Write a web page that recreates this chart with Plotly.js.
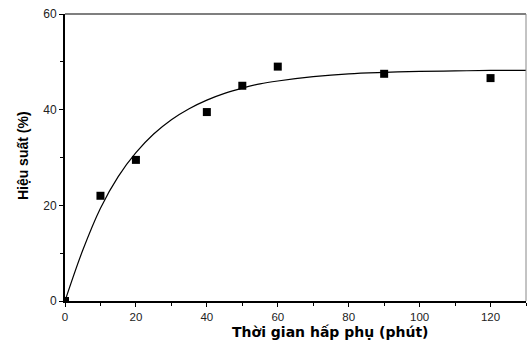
<!DOCTYPE html>
<html>
<head>
<meta charset="utf-8">
<script src="https://cdn.plot.ly/plotly-3.0.1.min.js"></script>
<style>html,body{margin:0;padding:0;background:#fff;}#chart{width:527px;height:344px;}</style>
</head>
<body>
<div id="chart"></div>
<script>
// Measured points
const timeMin = [0, 10, 20, 40, 50, 60, 90, 120];
const efficiency = [0, 22.0, 29.5, 39.5, 45.0, 49.0, 47.5, 46.6];
// Fitted curve
const fitTime = [0, 5, 10, 15, 20, 25, 30, 35, 40, 45, 50, 55, 60, 70, 80, 90, 100, 110, 120, 130];
const fitEff = [0, 10.6, 19.4, 26.0, 31.0, 34.9, 37.9, 40.2, 42.0, 43.4, 44.5, 45.4, 46.0, 46.9, 47.5, 47.8, 48.0, 48.1, 48.2, 48.2];
const xTitle = 'Thời gian hấp phụ (phút)';
const yTitle = 'Hiệu suất (%)';

const traces = [
  {x: fitTime, y: fitEff, mode: 'lines', type: 'scatter',
   line: {color: '#000', width: 1.2, shape: 'spline'}, hoverinfo: 'skip'},
  {x: timeMin, y: efficiency, mode: 'markers', type: 'scatter',
   marker: {symbol: 'square', size: 8, color: '#000'}}
];
const tickFont = {family: 'Liberation Sans, Arial, sans-serif', size: 12, color: '#222'};
const xTickFont = {family: 'Liberation Sans, Arial, sans-serif', size: 11.5, color: '#222'};
const layout = {
  width: 527, height: 344,
  margin: {l: 65, r: 1, t: 14, b: 43},
  paper_bgcolor: '#fff', plot_bgcolor: '#fff',
  showlegend: false,
  xaxis: {range: [0, 130], dtick: 20, tick0: 0, showgrid: false, zeroline: false,
    showline: true, linecolor: '#000', linewidth: 2, ticks: 'outside', ticklen: 4, tickwidth: 1, tickcolor: '#000',
    minor: {dtick: 10, ticks: 'outside', ticklen: 3, tickcolor: '#000', showgrid: false},
    tickfont: xTickFont},
  yaxis: {range: [0, 60], dtick: 20, tick0: 0, showgrid: false, zeroline: false,
    showline: true, linecolor: '#000', linewidth: 2, ticks: 'outside', ticklen: 4, tickwidth: 1, tickcolor: '#000',
    minor: {dtick: 10, ticks: 'outside', ticklen: 3, tickcolor: '#000', showgrid: false},
    tickfont: tickFont},
  shapes: [
    {type: 'line', xref: 'paper', yref: 'paper', x0: 0, x1: 1, y0: 1, y1: 1, line: {color: '#000', width: 1.2}},
    {type: 'line', xref: 'paper', yref: 'paper', x0: 1, x1: 1, y0: 0, y1: 1, line: {color: '#888', width: 1}}
  ],
  annotations: [
    {text: xTitle, xref: 'paper', yref: 'paper', x: 0.577, y: -0.107, xanchor: 'center', yanchor: 'middle',
     showarrow: false, font: {family: 'DejaVu Sans, sans-serif', size: 14, color: '#000', weight: 'bold'}},
    {text: yTitle, xref: 'paper', yref: 'paper', x: -0.091, y: 0.505, xanchor: 'center', yanchor: 'middle',
     textangle: -90, showarrow: false, font: {family: 'Liberation Sans, Arial, sans-serif', size: 14, color: '#000', weight: 'bold'}}
  ]
};
Plotly.newPlot('chart', traces, layout, {displayModeBar: false, staticPlot: true});
</script>
</body>
</html>
